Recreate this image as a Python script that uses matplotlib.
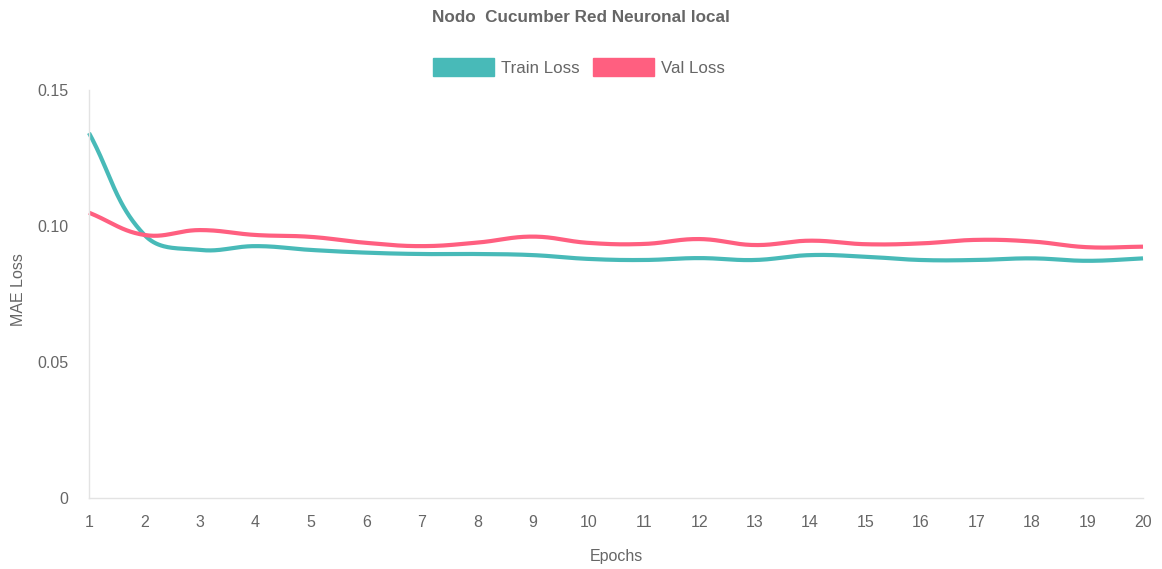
import numpy as np
import matplotlib
matplotlib.use("Agg")
import matplotlib.pyplot as plt
from matplotlib.patches import Patch

plt.rcParams['font.family'] = ['Liberation Sans', 'DejaVu Sans']

epochs = list(range(1, 21))
train_loss = [0.1342, 0.0967, 0.0912, 0.0926, 0.0912, 0.0902, 0.0897, 0.0897,
              0.0893, 0.0879, 0.0875, 0.0882, 0.0875, 0.0893, 0.0887, 0.0875,
              0.0875, 0.0881, 0.0872, 0.0881]
val_loss = [0.1049, 0.0967, 0.0985, 0.0967, 0.0960, 0.0938, 0.0926, 0.0939,
            0.0961, 0.0938, 0.0934, 0.0952, 0.0930, 0.0946, 0.0933, 0.0936,
            0.0949, 0.0943, 0.0922, 0.0924]
y_ticks = [0, 0.05, 0.10, 0.15]
y_tick_labels = ["0", "0.05", "0.10", "0.15"]

TEAL = "#48BAB8"
PINK = "#FF5F80"
TEXT = "#666666"


def tension_curve(ax, x, y, tension=0.4, n=40):
    """Bezier curve through the points with tension-based control points,
    computed in display space and mapped back to data coordinates."""
    pts = ax.transData.transform(np.column_stack([x, y]))
    m = len(pts)
    prev_cp = np.zeros_like(pts)
    next_cp = np.zeros_like(pts)
    for i in range(m):
        p_prev = pts[max(i - 1, 0)]
        p_cur = pts[i]
        p_next = pts[min(i + 1, m - 1)]
        d01 = np.hypot(*(p_cur - p_prev))
        d12 = np.hypot(*(p_next - p_cur))
        tot = d01 + d12
        s01 = d01 / tot if tot else 0.0
        s12 = d12 / tot if tot else 0.0
        prev_cp[i] = p_cur - tension * s01 * (p_next - p_prev)
        next_cp[i] = p_cur + tension * s12 * (p_next - p_prev)
    t = np.linspace(0, 1, n, endpoint=False)[:, None]
    segs = []
    for i in range(m - 1):
        p0, c1, c2, p1 = pts[i], next_cp[i], prev_cp[i + 1], pts[i + 1]
        segs.append((1 - t) ** 3 * p0 + 3 * (1 - t) ** 2 * t * c1
                    + 3 * (1 - t) * t ** 2 * c2 + t ** 3 * p1)
    segs.append(pts[-1:])
    curve = np.vstack(segs)
    data = ax.transData.inverted().transform(curve)
    return data[:, 0], data[:, 1]


fig = plt.figure(figsize=(11.62, 5.69), dpi=100)
ax = fig.add_axes([89 / 1162, 71 / 569, (1143 - 89) / 1162, (498 - 90) / 569])
ax.set_xlim(1, 20)
ax.set_ylim(0, 0.15)

for series, color in ((train_loss, TEAL), (val_loss, PINK)):
    sx, sy = tension_curve(ax, epochs, series)
    ax.plot(sx, sy, color=color, lw=3.0, solid_capstyle='butt', clip_on=False)

ax.set_xticks(epochs)
ax.set_yticks(y_ticks)
ax.set_yticklabels(y_tick_labels)
ax.tick_params(axis='both', length=0, labelsize=11.5, colors=TEXT)
ax.tick_params(axis='x', pad=12)
ax.tick_params(axis='y', pad=15)
for side in ('top', 'right'):
    ax.spines[side].set_visible(False)
for side in ('left', 'bottom'):
    ax.spines[side].set_color('#e3e3e3')
    ax.spines[side].set_linewidth(1.0)

ax.set_xlabel("Epochs", fontsize=11.5, color=TEXT, labelpad=14)
ax.set_ylabel("MAE Loss", fontsize=11.5, color=TEXT)
ax.yaxis.set_label_coords((26 - 89) / 1054, 0.51)

fig.text(0.5, 1 - 18 / 569, "Nodo  Cucumber Red Neuronal local", ha='center', va='center',
         fontsize=12.3, fontweight='bold', color=TEXT)

handles = [Patch(facecolor=TEAL, edgecolor=TEAL), Patch(facecolor=PINK, edgecolor=PINK)]
fig.legend(handles, ["Train Loss", "Val Loss"], loc='center', ncol=2,
           bbox_to_anchor=(0.498, 1 - 67 / 569), frameon=False, fontsize=12.2,
           handlelength=3.6, handleheight=1.2, handletextpad=0.42, columnspacing=0.8,
           labelcolor=TEXT)

fig.savefig("out.png", dpi=100)
